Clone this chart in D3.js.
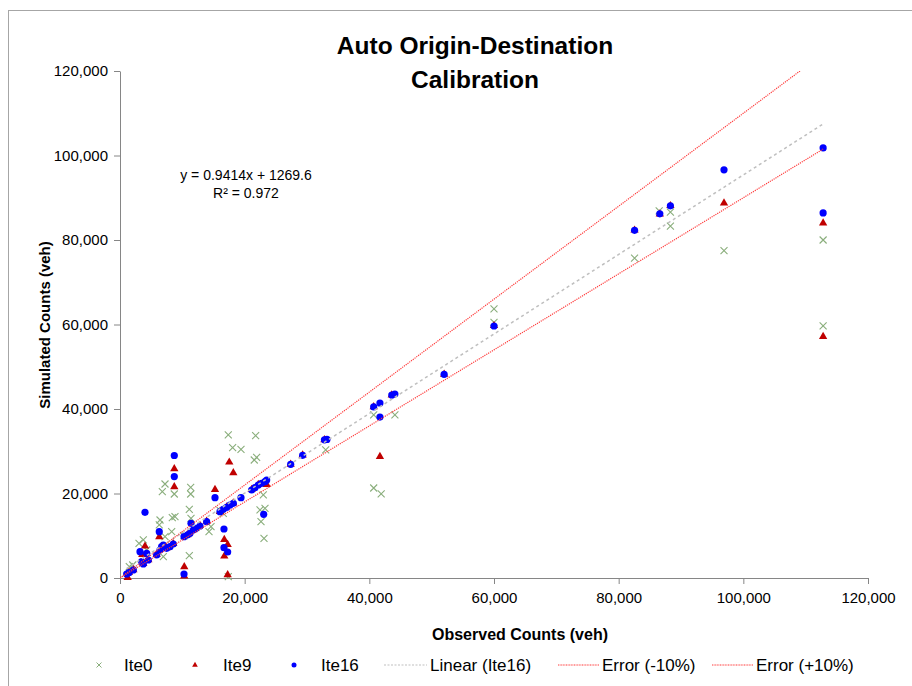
<!DOCTYPE html>
<html>
<head>
<meta charset="utf-8">
<script src="https://cdn.jsdelivr.net/npm/d3@7/dist/d3.min.js"></script>
<style>
  html, body { margin: 0; padding: 0; background: #fff; }
  svg { display: block; font-family: "Liberation Sans", Arial, sans-serif; }
</style>
</head>
<body>
<svg id="chart" width="912" height="686"></svg>
<script>
// ---------- DATA ----------
const titleLines = ["Auto Origin-Destination", "Calibration"];
const xTicks = [0, 20000, 40000, 60000, 80000, 100000, 120000];
const yTicks = [0, 20000, 40000, 60000, 80000, 100000, 120000];

// Ite0 (observed, simulated)
const ite0 = [
  [1490,2680],[2040,3080],[3050,8210],[3740,9000],[4280,6630],[6300,12550],[6420,13730],
  [6790,20430],[6950,5040],[7220,22250],[7220,9780],[8290,10960],[8390,14270],[8710,19880],
  [8820,14510],[10270,10000],[11120,16260],[11120,5280],[11340,21470],[11340,19880],[11390,14130],
  [12190,12000],[14280,10960],[14600,12140],[16040,16000],[16570,15310],[17370,33850],[17370,310],
  [18070,30840],[19410,30460],[21540,27930],[21760,33680],[21920,28570],[22460,16100],[22620,13330],
  [22990,19650],[23100,9400],[23260,16500],[33000,30300],[40700,38600],[40700,21300],[41900,19900],
  [44100,38600],[60000,63700],[60000,60500],[82550,75700],[86500,86900],[88300,86600],[88300,83300],
  [96900,77500],[112800,80000],[112800,59700]
];
// Ite9
const ite9 = [
  [1230,0],[1440,1200],[2140,1800],[3580,5440],[3740,3300],[4010,7410],[4540,4200],[5880,5400],
  [6300,9630],[6680,7300],[7490,7000],[8550,8000],[8710,25730],[8710,21470],[10310,2530],[10310,310],
  [10800,10100],[11760,11300],[12830,12300],[13900,13300],[15240,20830],[16040,15600],[16730,9000],
  [16730,5040],[17110,16700],[17270,7810],[17270,640],[17530,27290],[18180,24780],[18180,17600],
  [21120,20800],[22180,22000],[23530,22010],[27380,26800],[29300,29000],[32800,32600],[40700,40400],
  [41700,28600],[43600,43200],[52000,48100],[60000,59600],[82550,82200],[86600,86000],[88300,88000],
  [96900,88600],[112800,83900],[112800,57000]
];
// Ite16
const ite16 = [
  [1070,950],[1440,1260],[2140,1890],[3210,6230],[3480,3860],[3740,3310],[4280,5850],[4540,4260],
  [4010,15550],[5880,5440],[6300,10960],[6420,6630],[6680,7410],[6950,7810],[7490,7030],[8020,7410],
  [8550,8050],[8710,24000],[8710,29000],[10270,950],[10270,9780],[10800,10180],[11230,10580],
  [11390,12950],[11760,11360],[12190,11760],[12830,12310],[13900,13330],[15240,19010],[16040,15690],
  [16570,16260],[16680,11600],[16680,7180],[17110,16730],[17270,6150],[17640,17280],[18180,17680],
  [19410,19010],[21120,20830],[21650,21370],[22180,22010],[22720,22410],[23050,15080],[23260,22790],
  [23530,23200],[27380,26900],[29300,29040],[32800,32700],[33200,32800],[40700,40500],[41700,41400],
  [41700,38100],[43600,43300],[44100,43550],[52000,48200],[60000,59650],[82550,82300],[86600,86200],
  [88300,88100],[96900,96600],[112800,101800],[112800,86400]
];
const fitSlope = 0.9414, fitIntercept = 1269.6;
const equationLines = ["y = 0.9414x + 1269.6", "R\u00b2 = 0.972"];
const errorFactors = [0.9, 1.1];
const legendLabels = ["Ite0", "Ite9", "Ite16", "Linear (Ite16)", "Error (-10%)", "Error (+10%)"];

// ---------- CHART ----------
const svg = d3.select("#chart");
const W = 912, H = 686;
const plot = { left: 120, right: 868, top: 71, bottom: 578 };

const x = d3.scaleLinear().domain([0, 120000]).range([plot.left, plot.right]);
const y = d3.scaleLinear().domain([0, 120000]).range([plot.bottom, plot.top]);

// outer frame
svg.append("rect").attr("x", 8.5).attr("y", 10.5).attr("width", W + 10).attr("height", H + 10)
  .attr("fill", "#fff").attr("stroke", "#a6a6a6").attr("stroke-width", 1);

// clip
svg.append("defs").append("clipPath").attr("id", "plotclip")
  .append("rect").attr("x", plot.left).attr("y", plot.top)
  .attr("width", plot.right - plot.left).attr("height", plot.bottom - plot.top);

// title
svg.append("text").attr("x", 475).attr("text-anchor", "middle")
  .attr("font-weight", "bold").attr("font-size", 24.5).attr("fill", "#000")
  .selectAll("tspan").data(titleLines).join("tspan")
  .attr("x", 475).attr("y", (d, i) => 54 + i * 34).text(d => d);

// axes
const fmt = d3.format(",");
const gx = svg.append("g").attr("transform", `translate(0,${plot.bottom})`)
  .call(d3.axisBottom(x).tickValues(xTicks).tickFormat(fmt).tickSize(6).tickSizeOuter(0).tickPadding(8));
const gy = svg.append("g").attr("transform", `translate(${plot.left},0)`)
  .call(d3.axisLeft(y).tickValues(yTicks).tickFormat(fmt).tickSize(6).tickSizeOuter(0).tickPadding(6));
[gx, gy].forEach(g => {
  g.selectAll("path.domain").attr("stroke", "#868686");
  g.selectAll(".tick line").attr("stroke", "#868686");
  g.selectAll(".tick text").attr("font-size", 15).attr("fill", "#000")
    .attr("font-family", "'Liberation Sans', Arial, sans-serif");
});

// axis titles
svg.append("text").attr("x", 520).attr("y", 640).attr("text-anchor", "middle")
  .attr("font-weight", "bold").attr("font-size", 16).text("Observed Counts (veh)");
svg.append("text").attr("transform", "translate(50,325) rotate(-90)").attr("text-anchor", "middle")
  .attr("font-weight", "bold").attr("font-size", 15).text("Simulated Counts (veh)");

// markers
const mk = svg.append("g");
const crossPath = (cx, cy, s) => `M${cx - s},${cy - s}L${cx + s},${cy + s}M${cx - s},${cy + s}L${cx + s},${cy - s}`;
mk.append("g").selectAll("path").data(ite0).join("path")
  .attr("d", d => crossPath(x(d[0]), y(d[1]), 3.5))
  .attr("stroke", "#8aae7c").attr("stroke-width", 1.1).attr("fill", "none");
const tri = d3.symbol().type(d3.symbolTriangle).size(30);
mk.append("g").selectAll("path").data(ite9).join("path")
  .attr("transform", d => `translate(${x(d[0])},${y(d[1]) - 0.5})`)
  .attr("d", tri).attr("fill", "#c00000");
mk.append("g").selectAll("circle").data(ite16).join("circle")
  .attr("cx", d => x(d[0])).attr("cy", d => y(d[1])).attr("r", 3.6).attr("fill", "#0000ff");

// lines
const lines = svg.append("g").attr("clip-path", "url(#plotclip)");
const xMin = d3.min(ite16, d => d[0]), xMax = d3.max(ite16, d => d[0]);
lines.append("line")
  .attr("x1", x(xMin)).attr("y1", y(fitSlope * xMin + fitIntercept))
  .attr("x2", x(xMax)).attr("y2", y(fitSlope * xMax + fitIntercept))
  .attr("stroke", "#bfbfbf").attr("stroke-width", 1.5).attr("stroke-dasharray", "3,3");
errorFactors.forEach(f => {
  lines.append("line")
    .attr("x1", x(0)).attr("y1", y(0))
    .attr("x2", x(xMax)).attr("y2", y(f * xMax))
    .attr("stroke", "#ff3b3b").attr("stroke-width", 1.2).attr("stroke-dasharray", "1.2,1");
});

// equation
svg.append("text").attr("text-anchor", "middle").attr("font-size", 14).attr("fill", "#000")
  .selectAll("tspan").data(equationLines).join("tspan")
  .attr("x", 246).attr("y", (d, i) => 180 + i * 18).text(d => d);

// legend
const legY = 665;
const lg = svg.append("g").attr("font-size", 17);
const legItems = [
  { type: "cross", mx: 99, tx: 124 },
  { type: "tri", mx: 195, tx: 223 },
  { type: "dot", mx: 294, tx: 321 },
  { type: "trend", x1: 384, x2: 427, tx: 430 },
  { type: "err", x1: 558, x2: 599, tx: 602 },
  { type: "err", x1: 712, x2: 753, tx: 756 }
];
legItems.forEach((it, i) => {
  if (it.type === "cross") lg.append("path").attr("d", crossPath(it.mx, legY, 2.5))
    .attr("stroke", "#8aae7c").attr("stroke-width", 1).attr("fill", "none");
  if (it.type === "tri") lg.append("path").attr("transform", `translate(${it.mx},${legY})`)
    .attr("d", d3.symbol().type(d3.symbolTriangle).size(14)).attr("fill", "#c00000");
  if (it.type === "dot") lg.append("circle").attr("cx", it.mx).attr("cy", legY).attr("r", 2.5).attr("fill", "#0000ff");
  if (it.type === "trend") lg.append("line").attr("x1", it.x1).attr("x2", it.x2).attr("y1", legY).attr("y2", legY)
    .attr("stroke", "#bfbfbf").attr("stroke-width", 1).attr("stroke-dasharray", "2,1.5");
  if (it.type === "err") lg.append("line").attr("x1", it.x1).attr("x2", it.x2).attr("y1", legY).attr("y2", legY)
    .attr("stroke", "#ff3b3b").attr("stroke-width", 1).attr("stroke-dasharray", "1,0.6");
  lg.append("text").attr("x", it.tx).attr("y", legY + 6).text(legendLabels[i]);
});
</script>
</body>
</html>
